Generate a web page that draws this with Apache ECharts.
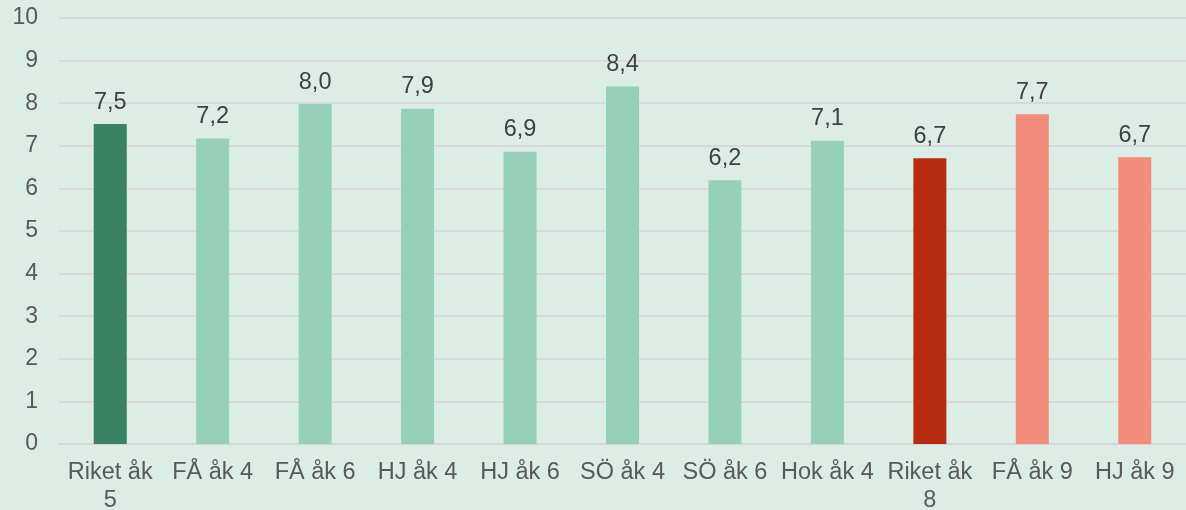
<!DOCTYPE html>
<html lang="sv">
<head>
    <meta charset="UTF-8">
    <title>Resultat</title>
</head>
<body style="margin:0;background:#dcede5">
<div class="main" style="width: 1186px;height: 510px;"></div>
<script src="https://cdn.jsdelivr.net/npm/echarts@6/dist/echarts.min.js"></script>
<script>
    // kategorier och värden
    var categories = ['Riket åk 5', 'FÅ åk 4', 'FÅ åk 6', 'HJ åk 4', 'HJ åk 6', 'SÖ åk 4', 'SÖ åk 6', 'Hok åk 4', 'Riket åk 8', 'FÅ åk 9', 'HJ åk 9'];
    var values = [7.51, 7.17, 7.98, 7.87, 6.86, 8.39, 6.19, 7.12, 6.71, 7.74, 6.73];
    var barColors = ['#3a8263', '#96d0b8', '#96d0b8', '#96d0b8', '#96d0b8', '#96d0b8', '#96d0b8', '#96d0b8', '#b72b12', '#f38d7b', '#f38d7b'];
    var yTicks = [0, 1, 2, 3, 4, 5, 6, 7, 8, 9, 10];

    var font = 'Liberation Sans';
    var main = document.querySelector(".main");
    var chart = echarts.init(main);

    var option = {
        backgroundColor: '#dcede5',
        grid: {left: 59, right: 0, top: 18, bottom: 66, outerBoundsMode: 'none'},
        xAxis: {
            type: 'category',
            data: categories,
            axisLine: {lineStyle: {color: '#d6d6d6', width: 2}},
            axisTick: {show: false},
            axisLabel: {
                interval: 0,
                color: '#595959',
                fontFamily: font,
                fontSize: 23.5,
                lineHeight: 28,
                margin: 15,
                // långa etiketter bryts före sista ordet, som i Excel
                formatter: function (v) {
                    return v.length > 9 ? v.replace(/ (\S+)$/, '\n$1') : v;
                }
            }
        },
        yAxis: {
            type: 'value',
            min: yTicks[0],
            max: yTicks[yTicks.length - 1],
            interval: 1,
            axisLabel: {color: '#595959', fontFamily: font, fontSize: 23, margin: 21},
            splitLine: {lineStyle: {color: '#d9d9d9', width: 2}}
        },
        series: [{
            type: 'bar',
            barWidth: 33,
            data: values.map(function (v, i) {
                return {value: v, itemStyle: {color: barColors[i]}};
            }),
            label: {
                show: true,
                position: 'top',
                distance: 10,
                color: '#404040',
                fontFamily: font,
                fontSize: 23.5,
                formatter: function (p) {
                    return p.value.toFixed(1).replace('.', ',');
                }
            }
        }]
    };
    chart.setOption(option);
</script>
</body>
</html>
